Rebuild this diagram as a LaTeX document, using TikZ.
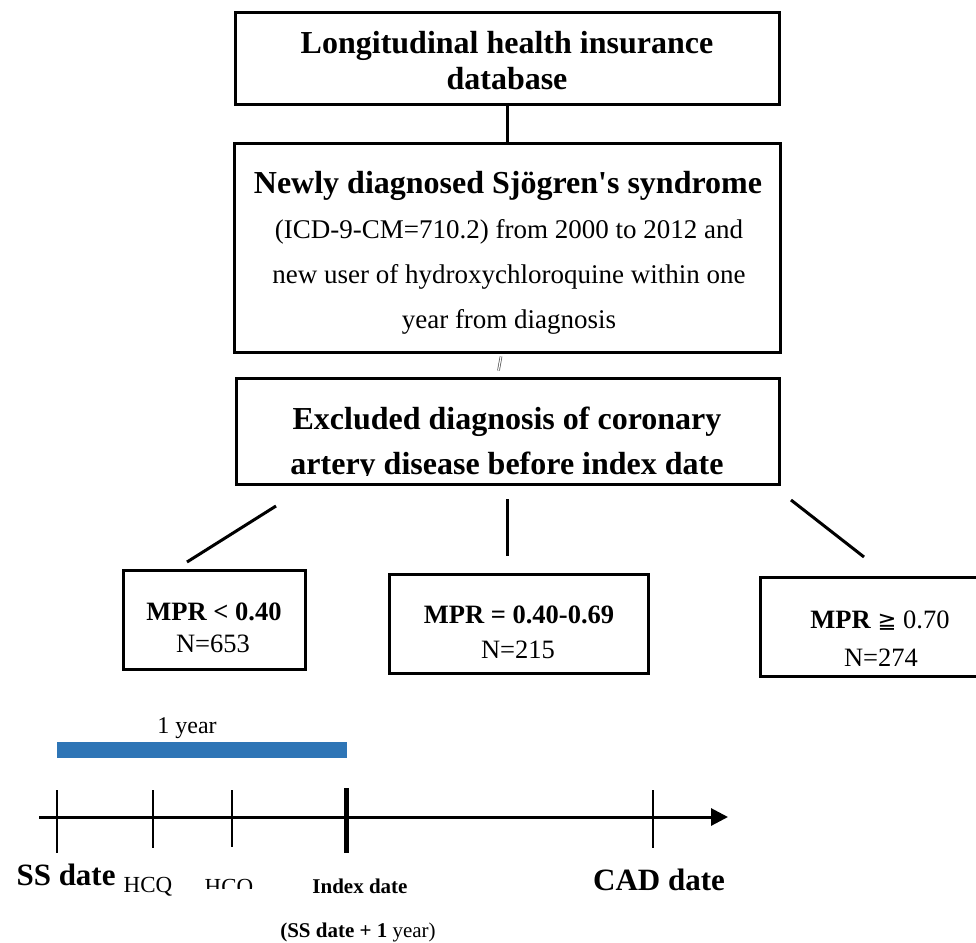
\documentclass[tikz,border=0pt]{standalone}
\usepackage{fontspec}
\setmainfont{Liberation Serif}[Ligatures=TeXOff]
\newfontfamily\symfont[Scale=0.85]{DejaVu Sans}
\usetikzlibrary{arrows.meta}
\definecolor{barblue}{RGB}{46,117,182}
\tikzset{
  box/.style={draw, line width=3pt, inner sep=0pt},
  link/.style={line width=3pt},
  tick/.style={line width=2.3pt},
  head/.style={anchor=base, font=\fontsize{32}{38}\selectfont\bfseries},
  body/.style={anchor=base, font=\fontsize{27}{32}\selectfont},
  mpr/.style={anchor=base, font=\fontsize{26.5}{32}\selectfont\bfseries},
  cnt/.style={anchor=base, font=\fontsize{26.5}{32}\selectfont},
  datebig/.style={anchor=base, font=\fontsize{31}{36}\selectfont\bfseries},
  datesmall/.style={anchor=base, font=\fontsize{21}{25}\selectfont\bfseries},
}
\begin{document}
\begin{tikzpicture}[x=1pt,y=-1pt]
\useasboundingbox (0,0) rectangle (976,942);

\node[box, minimum width=544pt, minimum height=91pt] (db) at (507,58.5) {};
\node[box, minimum width=546pt, minimum height=209pt] (ss) at (507,247.5) {};
\node[box, minimum width=543pt, minimum height=106pt] (excl) at (507.5,431) {};
\node[box, minimum width=182pt, minimum height=99pt] (low) at (214,619.5) {};
\node[box, minimum width=259pt, minimum height=99pt] (mid) at (518.5,623.5) {};
\node[box, minimum width=240pt, minimum height=99pt] (high) at (880,626.5) {};

\node[head] (db1) at (507,53) {Longitudinal health insurance};
\node[head] (db2) at (507,89) {database};
\node[head] (ss1) at (508,193) {Newly diagnosed Sjögren's syndrome};
\node[body] (ss2) at (509,238) {(ICD-9-CM=710.2) from 2000 to 2012 and};
\node[body] (ss3) at (509,283) {new user of hydroxychloroquine within one};
\node[body] (ss4) at (509,328) {year from diagnosis};
\node[head] (excl1) at (507,429) {Excluded diagnosis of coronary};
\begin{scope}
  \clip (240,440) rectangle (775,475);
  \node[head] (excl2) at (507,474) {artery disease before index date};
\end{scope}

\node[mpr] (low1) at (214,620) {MPR < 0.40};
\node[cnt] (low2) at (213,652) {N=653};
\node[mpr] (mid1) at (519,623) {MPR = 0.40-0.69};
\node[cnt] (mid2) at (518,658) {N=215};
\node[cnt] (high1) at (880,628) {\textbf{MPR} {\symfont ≧} 0.70};
\node[cnt] (high2) at (881,666) {N=274};

\draw[link] (db) -- (ss);
\draw[gray!60!black, double, double distance=1.2pt, line width=0.7pt]
  ([xshift=-6pt,yshift=-3pt]ss.south) -- ([xshift=-9pt,yshift=6pt]excl.north);

\coordinate (lt) at (276,506);
\coordinate (lb) at (187,562);
\coordinate (mt) at (507,499);
\coordinate (mb) at (507,556);
\coordinate (rt) at (791,500);
\coordinate (rb) at (864,557);
\draw[link] (lt) -- (lb);
\draw[link] (mt) -- (mb);
\draw[link] (rt) -- (rb);

\fill[barblue] (57,742) rectangle (347,758);
\node[anchor=base, font=\fontsize{24}{28}\selectfont] (yr) at (187,733) {1 year};

\coordinate (t0) at (39,817);
\coordinate (t1) at (728,817);
\draw[link, -{Triangle[length=17pt,width=17pt]}] (t0) -- (t1);
\foreach \x/\b in {57/853,153/848,232/847,653/848}
  \draw[tick] (\x,790) -- (\x,\b);
\draw[line width=5pt] (346,788) -- (346,853);

\node[datebig, anchor=base west] (ssd) at (13,885) {SS date};
\node[anchor=base, font=\fontsize{23}{27}\selectfont] (hcq1) at (148,892) {HCQ};
\begin{scope}
  \clip (195,860) rectangle (265,888);
  \node[anchor=base, font=\fontsize{23}{27}\selectfont] (hcq2) at (229,894) {HCQ};
\end{scope}
\node[datesmall] (idx) at (360,893) {Index date};
\node[datebig] (cad) at (659,890) {CAD date};
\node[anchor=base, font=\fontsize{21}{25}\selectfont] (idx2) at (358,937) {\textbf{(SS date + 1} year)};
\end{tikzpicture}
\end{document}
